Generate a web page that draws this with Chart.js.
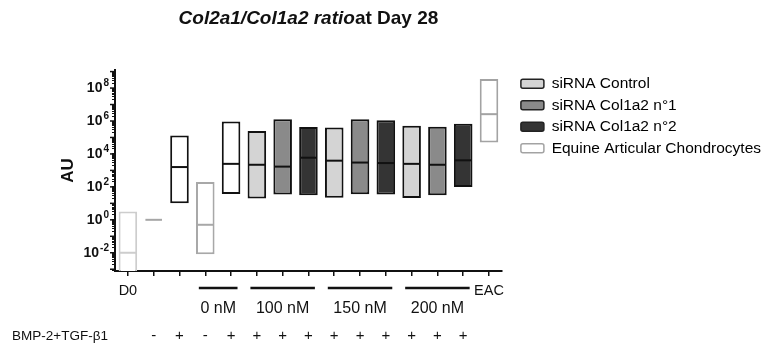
<!DOCTYPE html>
<html>
<head>
<meta charset="utf-8">
<script src="https://cdn.jsdelivr.net/npm/chart.js@4.4.0/dist/chart.umd.min.js"></script>
<style>
  html, body { margin: 0; padding: 0; background: #fff; }
  #wrap { position: relative; width: 773px; height: 344px; }
</style>
</head>
<body>
<div id="wrap"><canvas id="chartRatio" width="773" height="344"></canvas></div>
<script>
// categorias no eixo x (so D0 e EAC tem rotulo)
const categorias = ['D0', '', '', '', '', '', '', '', '', '', '', '', '', '', 'EAC'];
// linha BMP-2+TGF-b1, um sinal por categoria
const bmpTgf = ['', '-', '+', '-', '+', '+', '+', '+', '+', '+', '+', '+', '+', '+', ''];
// grupos de dose siRNA (primeira / ultima categoria)
const gruposDose = ['0 nM', '100 nM', '150 nM', '200 nM'];
const gruposInicio = [3, 5, 8, 11];
const gruposFim = [4, 7, 10, 13];
// expoentes com rotulo no eixo y
const expoentesY = [-2, 0, 2, 4, 6, 8];

// razao Col2a1/Col1a2 (AU): minimo, mediana, maximo por categoria
const minimos = [5e-4, 1, 10, 8e-3, 37, 20, 34, 31, 22, 36, 34, 21, 31, 100, 4.9e4];
const medianas = [0.01, 1, 1.6e3, 0.5, 2.5e3, 2.2e3, 1.7e3, 5.9e3, 3.9e3, 3e3, 2.8e3, 2.5e3, 2.2e3, 4.1e3, 2.6e6];
const maximos = [3.2, 1, 1.3e5, 200, 9.3e5, 2.5e5, 1.26e6, 4.3e5, 4e5, 1.26e6, 1.1e6, 5.1e5, 4.5e5, 6.8e5, 3.6e8];

// tipo de cada categoria
const tipos = ['d0', 'linha', 'vazio', 'cinza', 'vazio', 'ctrl', 'n1', 'n2', 'ctrl', 'n1', 'n2', 'ctrl', 'n1', 'n2', 'eac'];

// legenda
const legendaNomes = ['siRNA Control', 'siRNA Col1a2 n°1', 'siRNA Col1a2 n°2', 'Equine Articular Chondrocytes'];
const legendaTipos = ['ctrl', 'n1', 'n2', 'eac'];

const estilos = {
  d0:    { fill: '#ffffff', border: '#cdcdcd', med: '#cdcdcd' },
  linha: { fill: 'rgba(0,0,0,0)', border: 'rgba(0,0,0,0)', med: '#a6a6a6' },
  vazio: { fill: '#ffffff', border: '#111111', med: '#111111' },
  cinza: { fill: '#ffffff', border: '#a8a8a8', med: '#a8a8a8' },
  ctrl:  { fill: '#d4d4d4', border: '#111111', med: '#111111' },
  n1:    { fill: '#8a8a8a', border: '#111111', med: '#111111' },
  n2:    { fill: '#343434', border: '#111111', med: '#111111' },
  eac:   { fill: '#ffffff', border: '#a3a3a3', med: '#a3a3a3' }
};

const FONTE = "'Liberation Sans', Arial, sans-serif";

// desenha a linha da mediana dentro de cada barra
const pluginMediana = {
  id: 'mediana',
  afterDatasetsDraw(chart) {
    const ctx = chart.ctx;
    const y = chart.scales.y;
    const barras = chart.getDatasetMeta(0).data;
    ctx.save();
    barras.forEach((bar, i) => {
      const py = y.getPixelForValue(medianas[i]);
      ctx.strokeStyle = estilos[tipos[i]].med;
      ctx.lineWidth = 2;
      ctx.beginPath();
      ctx.moveTo(bar.x - bar.width / 2 + 1, py);
      ctx.lineTo(bar.x + bar.width / 2 - 1, py);
      ctx.stroke();
    });
    ctx.restore();
  }
};

// titulo misto, rotulos 10^n, grupos de dose e linha BMP-2+TGF-b1
const pluginTextos = {
  id: 'textos',
  afterDraw(chart) {
    const ctx = chart.ctx;
    const x = chart.scales.x;
    const y = chart.scales.y;
    const area = chart.chartArea;
    ctx.save();
    ctx.fillStyle = '#111';
    ctx.textBaseline = 'middle';

    // titulo
    const parte1 = 'Col2a1/Col1a2 ratio';
    const parte2 = 'at Day 28';
    ctx.font = 'italic bold 19px ' + FONTE;
    const w1 = ctx.measureText(parte1).width;
    ctx.font = 'bold 19px ' + FONTE;
    const w2 = ctx.measureText(parte2).width;
    const tx = (area.left + area.right) / 2 - (w1 + w2) / 2;
    ctx.textAlign = 'left';
    ctx.font = 'italic bold 19px ' + FONTE;
    ctx.fillText(parte1, tx, 19);
    ctx.font = 'bold 19px ' + FONTE;
    ctx.fillText(parte2, tx + w1, 19);

    // rotulos do eixo y: 10 com expoente
    expoentesY.forEach(e => {
      const py = y.getPixelForValue(Math.pow(10, e));
      const exp = e < 0 ? '-' + Math.abs(e) : String(e);
      ctx.font = 'bold 10px ' + FONTE;
      const we = ctx.measureText(exp).width;
      ctx.textAlign = 'right';
      ctx.fillText(exp, area.left - 6, py - 5);
      ctx.font = 'bold 14px ' + FONTE;
      ctx.fillText('10', area.left - 7 - we, py);
    });

    // marcas maiores do eixo y
    ctx.strokeStyle = '#111';
    ctx.lineWidth = 1.5;
    for (let e = -3; e <= 9; e++) {
      const py = y.getPixelForValue(Math.pow(10, e));
      if (py < area.top - 1 || py > area.bottom + 1) continue;
      ctx.beginPath();
      ctx.moveTo(area.left, py);
      ctx.lineTo(area.left - 5, py);
      ctx.stroke();
    }

    // grupos de dose
    const passo = x.getPixelForValue(1) - x.getPixelForValue(0);
    gruposDose.forEach((rot, g) => {
      const x0 = x.getPixelForValue(gruposInicio[g]) - passo * 0.25;
      const x1 = x.getPixelForValue(gruposFim[g]) + passo * 0.25;
      ctx.lineWidth = 2.5;
      ctx.beginPath();
      ctx.moveTo(x0, area.bottom + 17);
      ctx.lineTo(x1, area.bottom + 17);
      ctx.stroke();
      ctx.font = '16px ' + FONTE;
      ctx.textAlign = 'center';
      ctx.fillText(rot, (x0 + x1) / 2, area.bottom + 38);
    });

    // linha BMP-2+TGF-b1
    ctx.font = '13.5px ' + FONTE;
    ctx.textAlign = 'left';
    ctx.fillText('BMP-2+TGF-β1', 12, 336);
    ctx.font = '15px ' + FONTE;
    ctx.textAlign = 'center';
    bmpTgf.forEach((s, i) => {
      if (s) ctx.fillText(s, x.getPixelForValue(i), 336);
    });
    ctx.restore();
  }
};

const ctx = document.getElementById('chartRatio').getContext('2d');
new Chart(ctx, {
  type: 'bar',
  data: {
    labels: categorias,
    datasets: [{
      label: 'Col2a1/Col1a2',
      data: minimos.map((m, i) => [m, maximos[i]]),
      backgroundColor: tipos.map(t => estilos[t].fill),
      borderColor: tipos.map(t => estilos[t].border),
      borderWidth: tipos.map(t => t === 'linha' ? 0 : 2),
      borderSkipped: false,
      barPercentage: 0.72,
      categoryPercentage: 1
    }]
  },
  options: {
    responsive: false,
    animation: false,
    devicePixelRatio: 1,
    layout: { padding: { top: 70, bottom: 46, left: 0, right: 2 } },
    plugins: {
      tooltip: { enabled: false },
      legend: {
        display: true,
        position: 'right',
        align: 'start',
        maxWidth: 280,
        onClick: null,
        labels: {
          boxWidth: 23,
          boxHeight: 9,
          padding: 6,
          color: '#111',
          font: { family: FONTE, size: 15.5 },
          useBorderRadius: true,
          generateLabels: () => legendaNomes.map((nome, i) => ({
            text: nome,
            fillStyle: estilos[legendaTipos[i]].fill,
            strokeStyle: legendaTipos[i] === 'eac' ? '#a3a3a3' : '#222',
            lineWidth: 1.5,
            borderRadius: 2,
            hidden: false,
            datasetIndex: 0
          }))
        }
      }
    },
    scales: {
      x: {
        type: 'category',
        offset: true,
        grid: { display: true, drawOnChartArea: false, offset: false, tickLength: 5, color: '#111', lineWidth: 1.5 },
        border: { display: true, color: '#111', width: 2 },
        ticks: { autoSkip: false, maxRotation: 0, padding: 6, color: '#111', font: { family: FONTE, size: 14.5 } },
        afterFit: s => { s.height = 27; }
      },
      y: {
        type: 'logarithmic',
        min: 7.8e-4,
        max: 1.25e9,
        afterBuildTicks: s => {
          const t = [];
          for (let e = -4; e <= 9; e++) {
            for (let m = 1; m <= 9; m++) {
              const v = m * Math.pow(10, e);
              if (v >= s.min && v <= s.max) t.push({ value: v });
            }
          }
          s.ticks = t;
        },
        grid: { display: true, drawOnChartArea: false, tickLength: 3, color: '#111', lineWidth: 1 },
        border: { display: true, color: '#111', width: 2 },
        ticks: { autoSkip: false, padding: 4, callback: () => '' },
        title: { display: true, text: 'AU', color: '#111', font: { family: FONTE, size: 17, weight: 'bold' }, padding: { top: 58, bottom: 0 } },
        afterFit: s => { s.width = 115; }
      },
      espaco: {
        type: 'linear',
        position: 'right',
        display: true,
        grid: { display: false, drawTicks: false },
        border: { display: false },
        ticks: { display: false },
        afterFit: s => { s.width = 13; }
      }
    }
  },
  plugins: [pluginMediana, pluginTextos]
});
</script>
</body>
</html>
